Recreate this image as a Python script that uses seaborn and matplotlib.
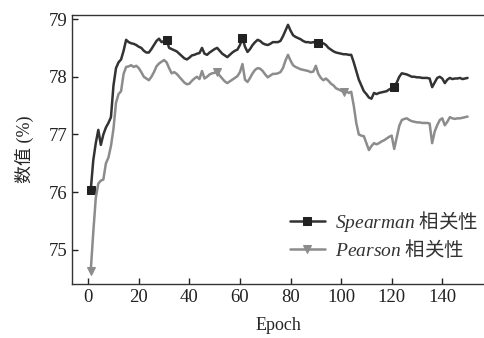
import numpy as np
import pandas as pd
import matplotlib
matplotlib.use("Agg")
import matplotlib.pyplot as plt
import seaborn as sns

# epochs 1..150
epochs = list(range(1, 151))

spearman = [
    76.03, 76.55, 76.85, 77.08, 76.82, 77.00, 77.12, 77.20, 77.30, 77.85,
    78.15, 78.25, 78.30, 78.45, 78.64, 78.60, 78.58, 78.57, 78.55, 78.52,
    78.50, 78.45, 78.42, 78.42, 78.48, 78.55, 78.62, 78.66, 78.60, 78.62,
    78.64, 78.50, 78.48, 78.46, 78.44, 78.40, 78.36, 78.32, 78.30, 78.33,
    78.37, 78.38, 78.40, 78.41, 78.50, 78.40, 78.38, 78.42, 78.45, 78.48,
    78.50, 78.45, 78.40, 78.37, 78.34, 78.38, 78.42, 78.45, 78.47, 78.55,
    78.67, 78.52, 78.43, 78.48, 78.55, 78.60, 78.64, 78.62, 78.58, 78.56,
    78.55, 78.57, 78.60, 78.60, 78.60, 78.62, 78.70, 78.80, 78.90, 78.80,
    78.72, 78.69, 78.67, 78.65, 78.62, 78.60, 78.60, 78.59, 78.60, 78.58,
    78.58, 78.57, 78.58, 78.55, 78.50, 78.47, 78.44, 78.42, 78.41, 78.40,
    78.39, 78.39, 78.38, 78.38, 78.25, 78.10, 77.95, 77.85, 77.75, 77.70,
    77.64, 77.62, 77.72, 77.70, 77.72, 77.73, 77.74, 77.75, 77.78, 77.80,
    77.82, 77.90, 78.00, 78.06, 78.05, 78.04, 78.02, 78.00, 78.00, 77.99,
    77.99, 77.98, 77.98, 77.98, 77.97, 77.82, 77.90, 77.98, 78.00, 77.97,
    77.89, 77.95, 77.98, 77.96, 77.97, 77.97, 77.98, 77.96, 77.97, 77.98,
]

pearson = [
    74.63, 75.30, 75.90, 76.15, 76.20, 76.22, 76.50, 76.60, 76.80, 77.10,
    77.55, 77.70, 77.75, 78.05, 78.17, 78.18, 78.20, 78.17, 78.19, 78.15,
    78.08, 78.00, 77.97, 77.94, 78.00, 78.08, 78.18, 78.23, 78.26, 78.29,
    78.25, 78.15, 78.06, 78.08, 78.05, 78.00, 77.95, 77.90, 77.87, 77.88,
    77.93, 77.97, 78.00, 77.96, 78.10, 77.97, 78.00, 78.04, 78.06, 78.07,
    78.08, 78.02, 77.97, 77.92, 77.89, 77.92, 77.95, 77.98, 78.01, 78.08,
    78.22, 77.95, 77.91, 77.98, 78.06, 78.12, 78.15, 78.14, 78.10, 78.04,
    77.99, 78.02, 78.05, 78.05, 78.06, 78.08, 78.15, 78.28, 78.38, 78.28,
    78.20, 78.17, 78.15, 78.13, 78.12, 78.11, 78.10, 78.08, 78.09, 78.19,
    78.05, 77.98, 77.94, 77.97, 77.93, 77.88, 77.85, 77.80, 77.78, 77.76,
    77.74, 77.75, 77.72, 77.74, 77.50, 77.20, 77.00, 76.98, 76.97, 76.85,
    76.73, 76.80, 76.85, 76.83, 76.85, 76.88, 76.90, 76.93, 76.96, 76.98,
    76.75, 76.95, 77.15, 77.25, 77.27, 77.28, 77.25, 77.23, 77.22, 77.21,
    77.21, 77.20, 77.20, 77.20, 77.19, 76.85, 77.05, 77.16, 77.25, 77.28,
    77.16, 77.22, 77.30, 77.28, 77.27, 77.28, 77.28, 77.29, 77.30, 77.31,
]

y_ticks = [75, 76, 77, 78, 79]
x_ticks = [0, 20, 40, 60, 80, 100, 120, 140]

sns.set_style("ticks")
plt.rcParams['font.family'] = ['Liberation Serif', 'Noto Sans CJK SC']
plt.rcParams['mathtext.fontset'] = 'custom'
plt.rcParams['mathtext.it'] = 'Liberation Serif:italic'
plt.rcParams['mathtext.rm'] = 'Noto Sans CJK SC'

df = pd.DataFrame({'Epoch': epochs, 'Spearman': spearman, 'Pearson': pearson})

fig = plt.figure(figsize=(4.84, 3.38), dpi=100)
ax = fig.add_axes([72 / 484, 54 / 338, 412 / 484, 269 / 338])

sns.lineplot(data=df, x='Epoch', y='Spearman', ax=ax, color='#333333', lw=1.8,
             marker='s', markersize=6, markevery=30, markeredgecolor='#222222',
             markerfacecolor='#222222', label=r'$\mathit{Spearman}\ \mathrm{相关性}$')
sns.lineplot(data=df, x='Epoch', y='Pearson', ax=ax, color='#8c8c8c', lw=1.8,
             marker='v', markersize=5.5, markevery=50, markeredgecolor='#8c8c8c',
             markerfacecolor='#8c8c8c', label=r'$\mathit{Pearson}\ \mathrm{相关性}$')

ax.set_xlim(-6.4, 156.5)
ax.set_ylim(74.41, 79.07)
ax.set_xticks(x_ticks)
ax.set_yticks(y_ticks)
ax.tick_params(direction='in', length=4, width=1, labelsize=13.5, colors='#222222')
for s in ['left', 'bottom', 'top']:
    ax.spines[s].set_linewidth(1.0)
    ax.spines[s].set_color('#333333')
ax.spines['right'].set_visible(False)

ax.set_xlabel('Epoch', fontsize=13)
ax.set_ylabel('数值 (%)', fontsize=13)
ax.xaxis.labelpad = 8
ax.yaxis.labelpad = 10

leg = ax.legend(loc='center left', bbox_to_anchor=(0.51, 0.185), frameon=False,
                fontsize=14, handlelength=1.8, handletextpad=0.5, labelspacing=0.15,
                borderaxespad=0)
for t in leg.get_texts():
    t.set_color('#333333')

fig.savefig('out.png', dpi=100)
